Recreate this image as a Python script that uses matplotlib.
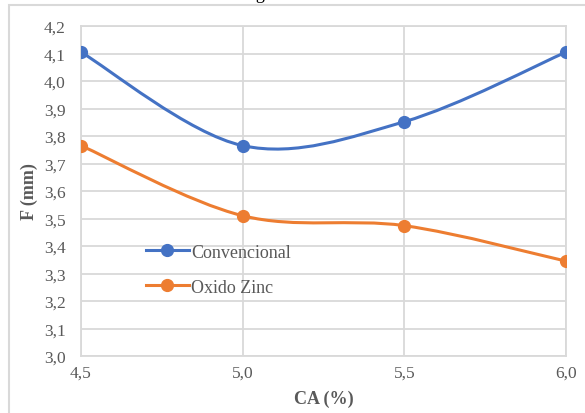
import numpy as np
import matplotlib
matplotlib.use('Agg')
import matplotlib.pyplot as plt
from matplotlib.path import Path
from matplotlib.patches import PathPatch, Rectangle
from matplotlib.ticker import FuncFormatter, MultipleLocator

# Data
ca = [4.5, 5.0, 5.5, 6.0]
convencional = [4.105, 3.765, 3.852, 4.105]
oxido_zinc = [3.765, 3.51, 3.474, 3.345]

blue = '#4472C4'
orange = '#ED7D31'
grey_txt = '#595959'
grid_c = '#D9D9D9'

plt.rcParams['font.family'] = ['Liberation Serif', 'DejaVu Serif']


def smooth_path(xs, ys):
	# Excel-style smoothing: cubic Bezier with Catmull-Rom control points
	pts = np.column_stack([xs, ys]).astype(float)
	n = len(pts)
	verts = [pts[0]]
	codes = [Path.MOVETO]
	for i in range(n - 1):
		p0 = pts[i - 1] if i > 0 else pts[i]
		p1 = pts[i]
		p2 = pts[i + 1]
		p3 = pts[i + 2] if i + 2 < n else pts[i + 1]
		c1 = p1 + (p2 - p0) / 6.0
		c2 = p2 - (p3 - p1) / 6.0
		verts += [c1, c2, p2]
		codes += [Path.CURVE4] * 3
	return Path(verts, codes)


fig = plt.figure(figsize=(5.85, 4.14), dpi=100)
ax = fig.add_axes([81/585, 1-357/414, (566-81)/585, (357-27)/414])

for yy, col, lab in [(convencional, blue, 'Convencional'), (oxido_zinc, orange, 'Oxido Zinc')]:
	ax.add_patch(PathPatch(smooth_path(ca, yy), fill=False, edgecolor=col, lw=2.2, zorder=3))
	ax.plot(ca, yy, ls='none', marker='o', ms=8.5, color=col, zorder=4)
	ax.plot([], [], color=col, lw=2.2, marker='o', ms=8.5, label=lab)

ax.set_xlim(4.5, 6.0)
ax.set_ylim(3.0, 4.2)
ax.xaxis.set_major_locator(MultipleLocator(0.5))
ax.yaxis.set_major_locator(MultipleLocator(0.1))
fmt = FuncFormatter(lambda v, p: ('%.1f' % v).replace('.', ','))
ax.xaxis.set_major_formatter(fmt)
ax.yaxis.set_major_formatter(fmt)
ax.tick_params(length=0, labelsize=12.5, labelcolor=grey_txt)
ax.tick_params(axis='y', pad=11)
ax.tick_params(axis='x', pad=6)
ax.grid(True, color=grid_c, lw=1.3)
ax.set_axisbelow(True)
for s in ax.spines.values():
	s.set_color(grid_c)
	s.set_linewidth(1.3)

ax.set_xlabel('CA (%)', fontsize=13, fontweight='bold', color=grey_txt, labelpad=7)
ax.set_ylabel('F (mm)', fontsize=13, fontweight='bold', color=grey_txt, labelpad=4)

ax.legend(loc='upper left', bbox_to_anchor=(0.1, 0.39), frameon=False,
		  fontsize=13, labelcolor=grey_txt, handlelength=2.4, handletextpad=0.1,
		  labelspacing=1.0)

# chart border and cut-off caption
fig.add_artist(Rectangle((9/585, -0.1), 1.0, 1 - 6/414 + 0.1, transform=fig.transFigure,
						 fill=False, edgecolor=grid_c, lw=1.5, clip_on=False))
fig.text(0.475, 1.0 + 1/414, 'Figura 4.6', ha='center', va='baseline', fontsize=13)

fig.savefig('out.png', dpi=100)
